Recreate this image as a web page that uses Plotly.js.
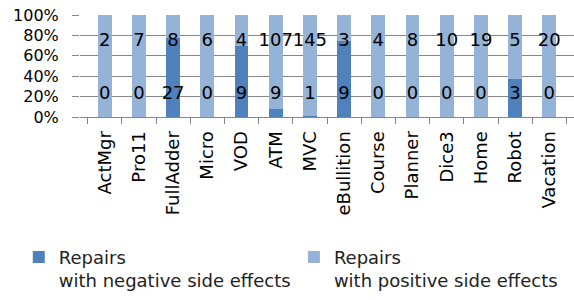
<!DOCTYPE html>
<html><head><meta charset="utf-8">
<script src="https://cdn.plot.ly/plotly-3.0.1.min.js"></script>
<style>html,body{margin:0;padding:0;background:#fff}#chart{width:574px;height:300px}</style>
</head><body><div id="chart"></div>
<script>
const categories = ["ActMgr","Pro11","FullAdder","Micro","VOD","ATM","MVC","eBullition","Course","Planner","Dice3","Home","Robot","Vacation"];
const negativeRepairs = [0,0,27,0,9,9,1,9,0,0,0,0,3,0];
const positiveRepairs = [2,7,8,6,4,107,145,3,4,8,10,19,5,20];
const seriesNames = ["Repairs<br>with negative side effects","Repairs<br>with positive side effects"];
const negLabelLevel = categories.map(() => 22);
const posLabelLevel = categories.map(() => 74);

const F = "DejaVu Sans, sans-serif";
const traces = [
  {type:'bar', x:categories, y:negativeRepairs, name:seriesNames[0], legend:'legend', marker:{color:'#4F81BD'}, width:0.4, hoverinfo:'none'},
  {type:'bar', x:categories, y:positiveRepairs, name:seriesNames[1], legend:'legend2', marker:{color:'#95B3D7'}, width:0.4, hoverinfo:'none'},
  {type:'scatter', mode:'text', x:categories, y:negLabelLevel, text:negativeRepairs.map(String), textfont:{family:F,size:18,color:'#000'}, showlegend:false, cliponaxis:false, hoverinfo:'none'},
  {type:'scatter', mode:'text', x:categories, y:posLabelLevel, text:positiveRepairs.map(String), textfont:{family:F,size:18,color:'#000'}, showlegend:false, cliponaxis:false, hoverinfo:'none'}
];
const legBase = {orientation:'v', xref:'container', yref:'container', y:0.204, xanchor:'left', yanchor:'top',
    font:{family:F,size:18,color:'#222'}, valign:'top', itemwidth:30, bgcolor:'rgba(0,0,0,0)'};
const layout = {
  width:574, height:300,
  margin:{l:80, r:0, t:15, b:183, autoexpand:false},
  barmode:'stack', barnorm:'percent',
  paper_bgcolor:'#fff', plot_bgcolor:'#fff',
  font:{family:F, color:'#000'},
  xaxis:{type:'category', tickangle:-90, tickfont:{family:F,size:18,color:'#000'},
    ticks:'outside', tickson:'boundaries', ticklen:6, tickcolor:'#868686', automargin:false,
    showline:true, linecolor:'#868686', showgrid:false, ticklabelstandoff:6},
  yaxis:{range:[0,100], dtick:20, ticksuffix:'%', tickfont:{family:F,size:16,color:'#000'}, automargin:false,
    showgrid:true, gridcolor:'#868686', ticks:'outside', ticklen:7, tickcolor:'#868686',
    showline:false, zeroline:false, ticklabelstandoff:10, fixedrange:true},
  showlegend:true,
  legend:Object.assign({}, legBase, {x:0.0327}),
  legend2:Object.assign({}, legBase, {x:0.512})
};
Plotly.newPlot('chart', traces, layout, {staticPlot:true});
</script></body></html>
